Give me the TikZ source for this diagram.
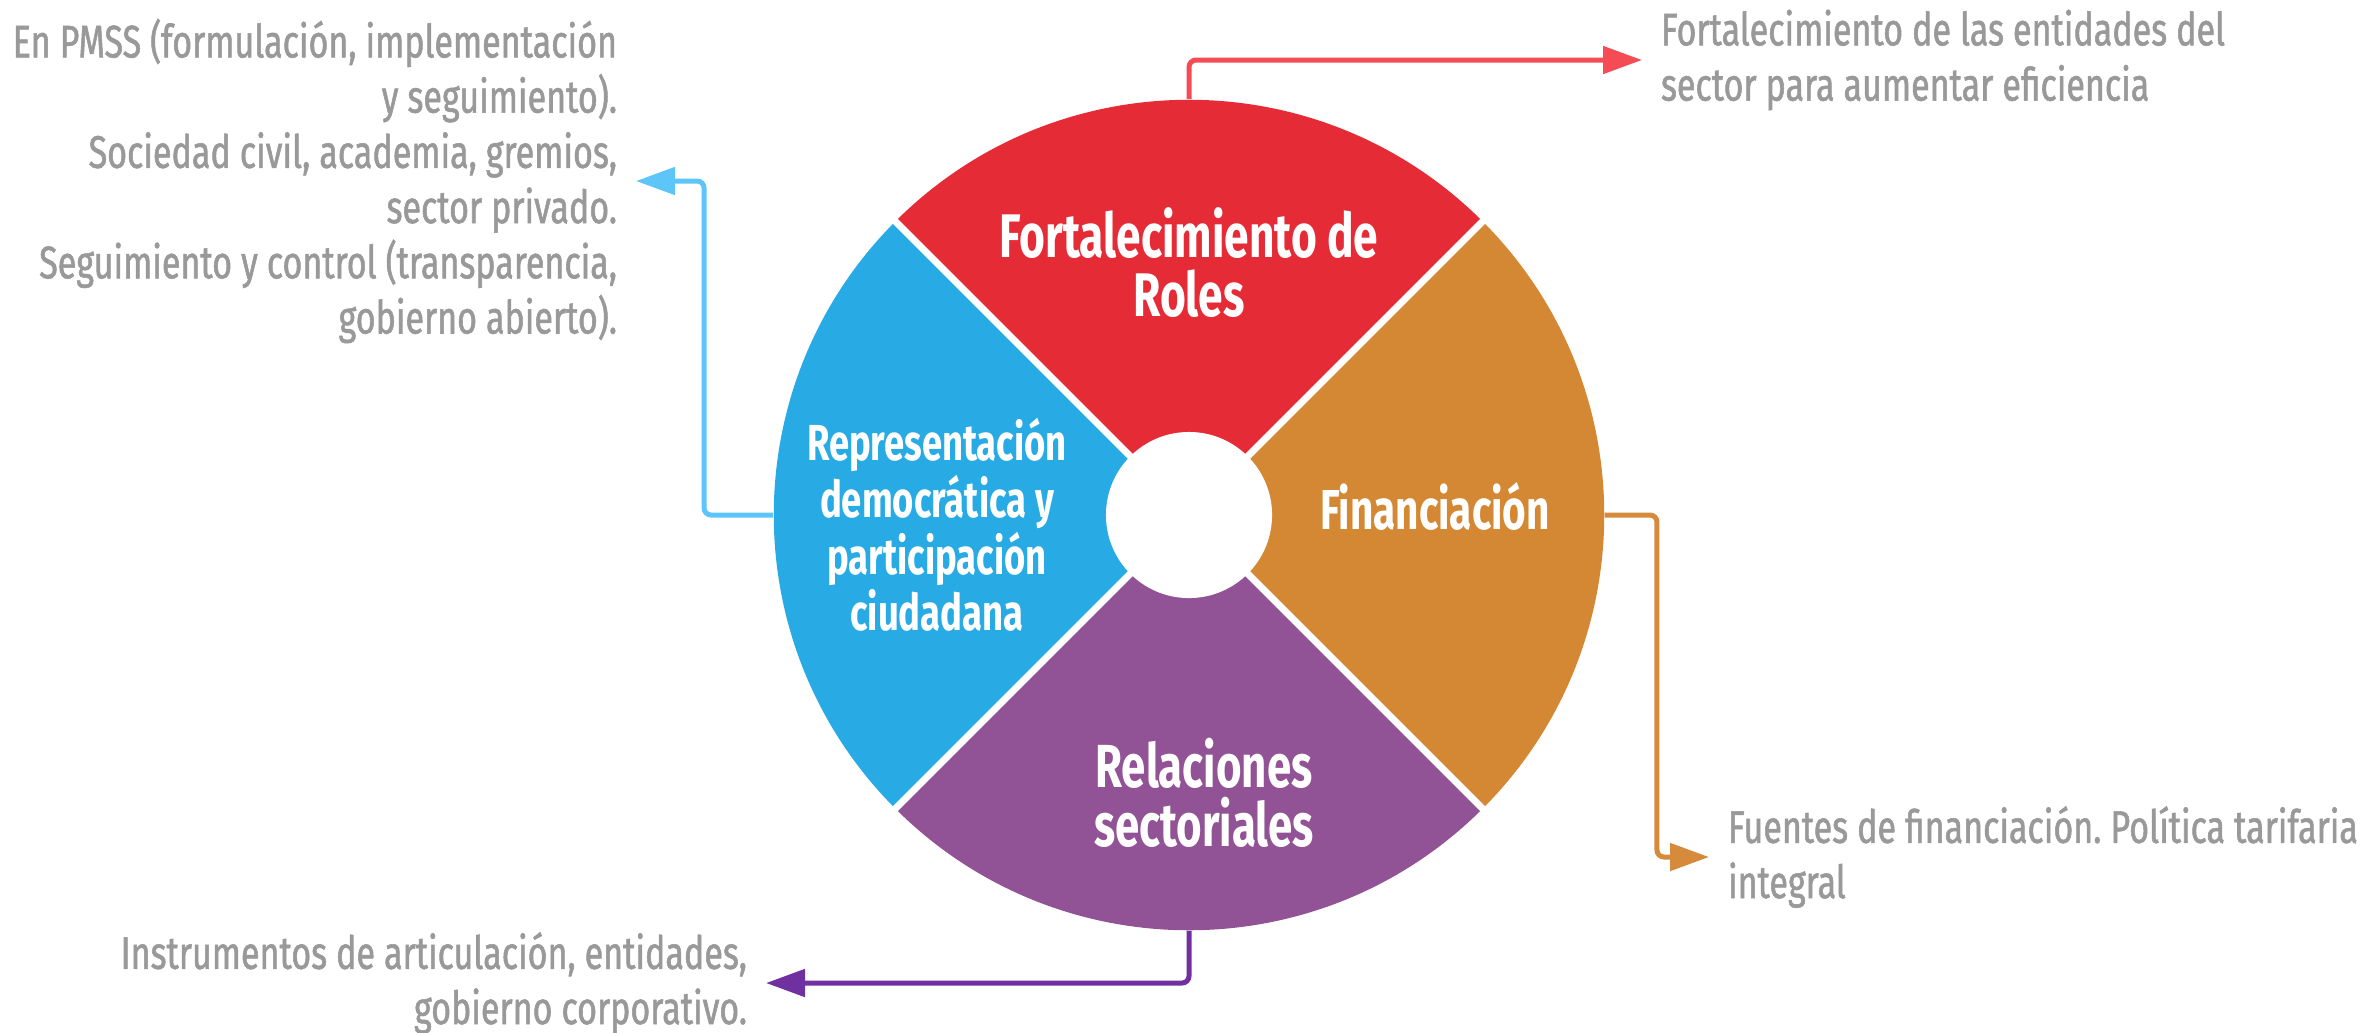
\documentclass[tikz,border=0pt]{standalone}
\usepackage{fontspec}
\setmainfont{Fira Sans}[FakeStretch=0.72]
\newfontfamily\notefont{Fira Sans}[FakeStretch=0.745, FakeBold=1.2]
\usepackage{tikz}
\usetikzlibrary{arrows.meta}
\usepackage{xcolor}
\definecolor{rolered}{HTML}{E52B36}
\definecolor{finorange}{HTML}{D58834}
\definecolor{relpurple}{HTML}{925396}
\definecolor{civblue}{HTML}{28AAE4}
\definecolor{rolelink}{HTML}{F44B55}
\definecolor{finlink}{HTML}{D68A3C}
\definecolor{rellink}{HTML}{7030A0}
\definecolor{civlink}{HTML}{5EC5F8}
\definecolor{notegray}{HTML}{999999}
\frenchspacing

\begin{document}
\begin{tikzpicture}[
x = 0.01cm, y = -0.01cm,
  title/.style = {text = white, align = center, inner sep = 0,
    font = \bfseries\fontsize{17.5}{16.8}\selectfont},
  note/.style = {text = notegray, inner sep = 0, outer xsep = 0.19cm,
    font = \notefont\fontsize{13}{15.7}\selectfont},
  link/.style = {line width = 0.05cm, rounded corners = 2pt,
    -{Triangle[length = 0.39cm, width = 0.27cm]}}
]
\useasboundingbox (0,0) rectangle (2364,1032);

\node[circle, minimum size = 8.3cm, inner sep = 0] (wheel) at (1189,515) {};

% the four quarters, cut apart by white gaps
\foreach \a/\c in {45/rolered, 135/civblue, 225/relpurple, 315/finorange}
    \fill[\c] (wheel.center) -- ++(\a:4.15cm)
        arc[start angle = \a, end angle = \a+90, radius = 4.15cm] -- cycle;
\foreach \a in {45, 135, 225, 315}
    \draw[white, line width = 0.07cm] (wheel.center) -- ++(\a:4.3cm);
\node[circle, fill = white, minimum size = 1.66cm, inner sep = 0] (hub) at (wheel.center) {};

\node[title] (roles) at (1189,263) {Fortalecimiento de\\Roles};
\node[title, font = \bfseries\fontsize{16}{16}\selectfont] (fin) at (1435,506) {Financiación};
\node[title, font = \bfseries\fontsize{17.3}{16.8}\selectfont] (rel) at (1204,793) {Relaciones\\sectoriales};
\node[title, font = \bfseries\fontsize{14.4}{13.4}\selectfont] (civ) at (937,525)
    {Representación\\democrática y\\participación\\ciudadana};

\node[note, anchor = west, align = left] (rolesnote) at (1642,60)
    {Fortalecimiento de las entidades del\\sector para aumentar eficiencia};
\node[note, anchor = east, align = right] (civnote) at (636,181)
    {En PMSS (formulación, implementación\\y seguimiento).\\Sociedad civil, academia, gremios,\\sector privado.\\Seguimiento y control (transparencia,\\gobierno abierto).};
\node[note, anchor = west, align = left] (finnote) at (1709,857)
    {Fuentes de financiación. Política tarifaria\\integral};
\node[note, anchor = east, align = right] (relnote) at (766,983)
    {Instrumentos de articulación, entidades,\\gobierno corporativo.};

\draw[link, rolelink] (wheel.north) |- (rolesnote.west);
\draw[link, civlink] (wheel.west) -- ++(-69,0) |- (civnote.east);
\draw[link, finlink] (wheel.east) -- ++(52,0) |- (finnote.west);
\draw[link, rellink] (wheel.south) |- (relnote.east);
\end{tikzpicture}
\end{document}
